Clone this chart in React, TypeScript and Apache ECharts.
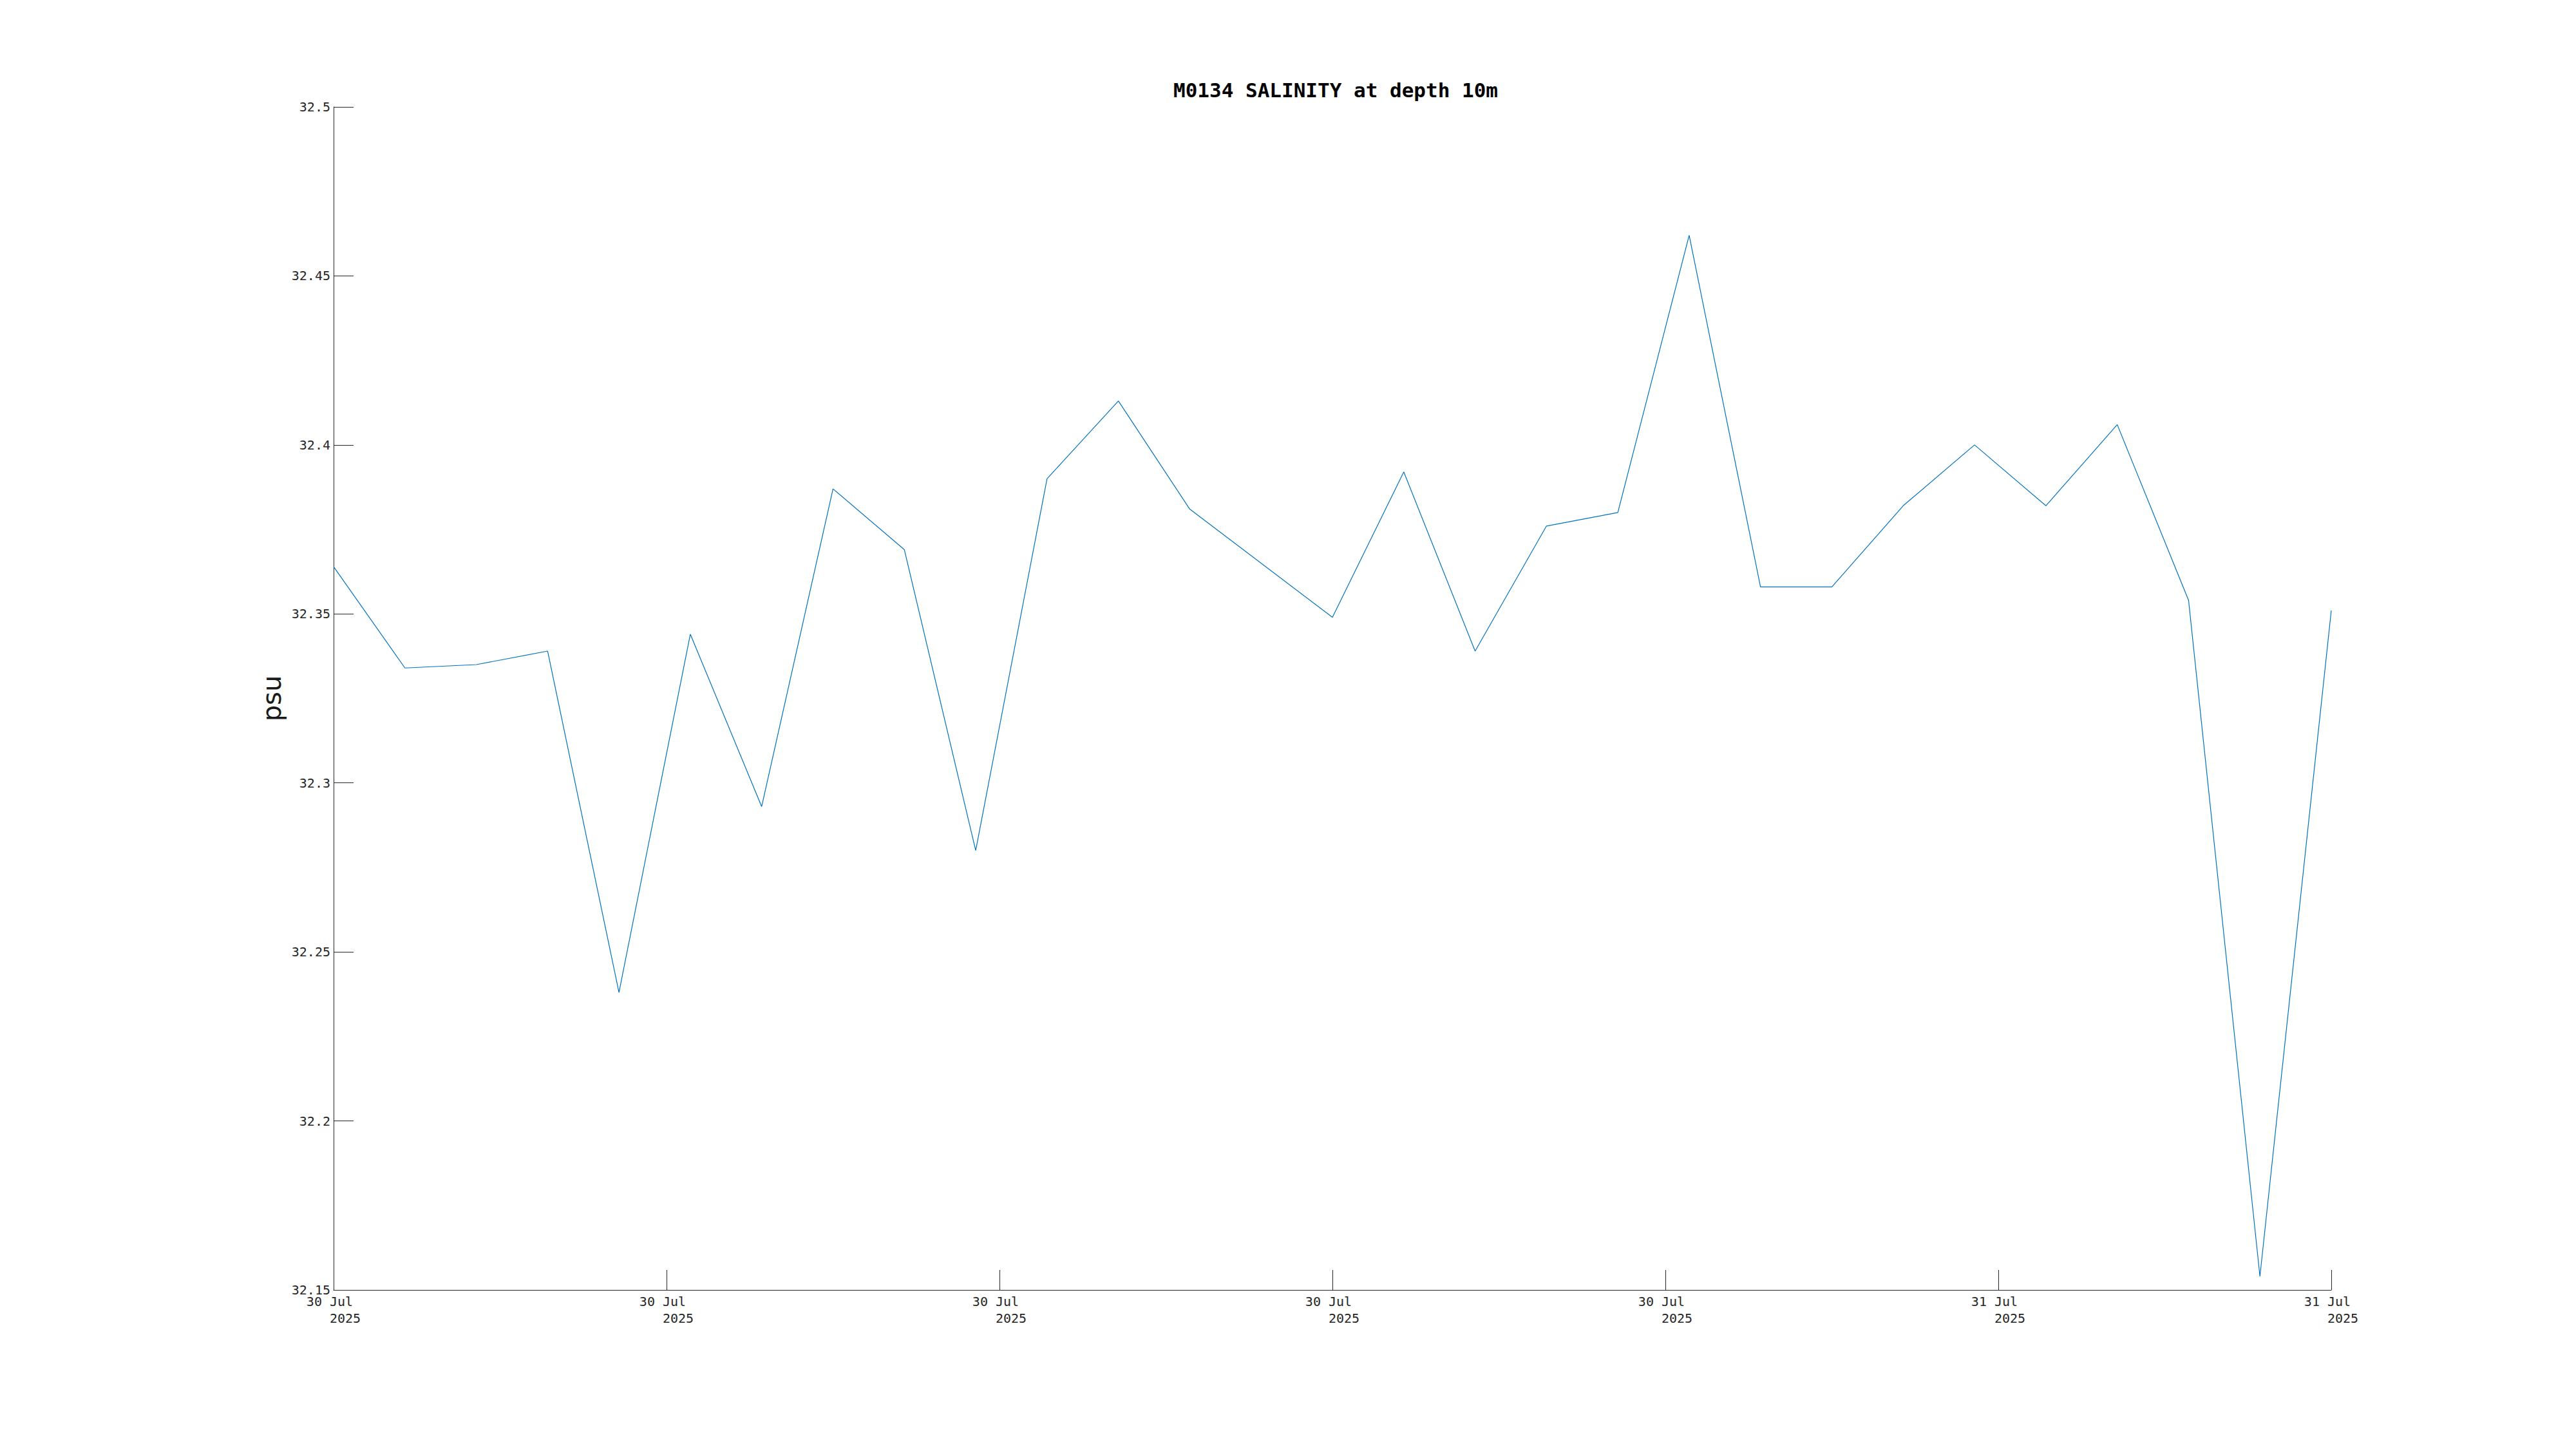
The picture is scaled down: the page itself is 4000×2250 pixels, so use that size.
import React, { useEffect, useRef } from "react";
import * as echarts from "echarts";

// Minutes since first sample
const times = [0, 60, 120, 180, 240, 300, 360, 420, 480, 540, 600, 660, 720, 840, 900, 960, 1020, 1080, 1140, 1200, 1260, 1320, 1380, 1440, 1500, 1560, 1620, 1680];
const salinity = [32.364, 32.334, 32.335, 32.339, 32.238, 32.344, 32.293, 32.387, 32.369, 32.280, 32.390, 32.413, 32.381, 32.349, 32.392, 32.339, 32.376, 32.380, 32.462, 32.358, 32.358, 32.382, 32.400, 32.382, 32.406, 32.354, 32.154, 32.351];
const xTickLabels = ["30 Jul", "30 Jul", "30 Jul", "30 Jul", "30 Jul", "31 Jul", "31 Jul"];
const xTickYear = "2025";
const titleText = "M0134 SALINITY at depth 10m";
const yName = "psu";

export default function App() {
  const ref = useRef<HTMLDivElement>(null);
  useEffect(() => {
    if (!ref.current) return;
    const chart = echarts.init(ref.current, undefined, { renderer: "svg" });
    const nb = "\u00a0";
    chart.setOption({
      animation: false,
      backgroundColor: "#ffffff",
      title: {
        text: titleText,
        left: 2069,
        textAlign: "center",
        top: 119,
        textStyle: { fontFamily: "DejaVu Sans Mono", fontWeight: "bold", fontSize: 31, color: "#000000" },
      },
      grid: { left: 518, right: 380, top: 166, bottom: 247, containLabel: false },
      xAxis: {
        type: "value",
        min: 0,
        max: 1680,
        interval: 280,
        axisLine: { show: true, lineStyle: { color: "#262626", width: 1 } },
        axisTick: { show: true, inside: true, length: 31, lineStyle: { color: "#262626", width: 1 } },
        splitLine: { show: false },
        axisLabel: {
          margin: 5,
          fontFamily: "DejaVu Sans Mono",
          fontSize: 20,
          lineHeight: 26,
          color: "#262626",
          showMinLabel: true,
          showMaxLabel: true,
          formatter: (_v: number, i: number) => `${xTickLabels[i] ?? ""}${nb}\n${nb}${nb}${nb}${xTickYear}`,
        },
      },
      yAxis: {
        type: "value",
        min: 32.15,
        max: 32.5,
        interval: 0.05,
        name: yName,
        nameLocation: "middle",
        nameRotate: 90,
        nameGap: 76,
        nameTextStyle: { fontFamily: "DejaVu Sans", fontSize: 40, color: "#1a1a1a" },
        axisLine: { show: true, lineStyle: { color: "#262626", width: 1 } },
        axisTick: { show: true, inside: true, length: 31, lineStyle: { color: "#262626", width: 1 } },
        splitLine: { show: false },
        axisLabel: {
          margin: 5,
          fontFamily: "DejaVu Sans Mono",
          fontSize: 20,
          color: "#262626",
          showMinLabel: true,
          showMaxLabel: true,
          formatter: (v: number) => String(parseFloat(v.toFixed(2))),
        },
      },
      series: [
        {
          type: "line",
          data: times.map((t, i) => [t, salinity[i]]),
          showSymbol: false,
          symbol: "none",
          lineStyle: { color: "#0072BD", width: 1.2 },
          silent: true,
        },
      ],
    });
    return () => chart.dispose();
  }, []);
  return (
    <div
      ref={ref}
      style={{ position: "fixed", left: 0, top: 0, width: "4000px", height: "2250px", background: "#fff" }}
    />
  );
}
